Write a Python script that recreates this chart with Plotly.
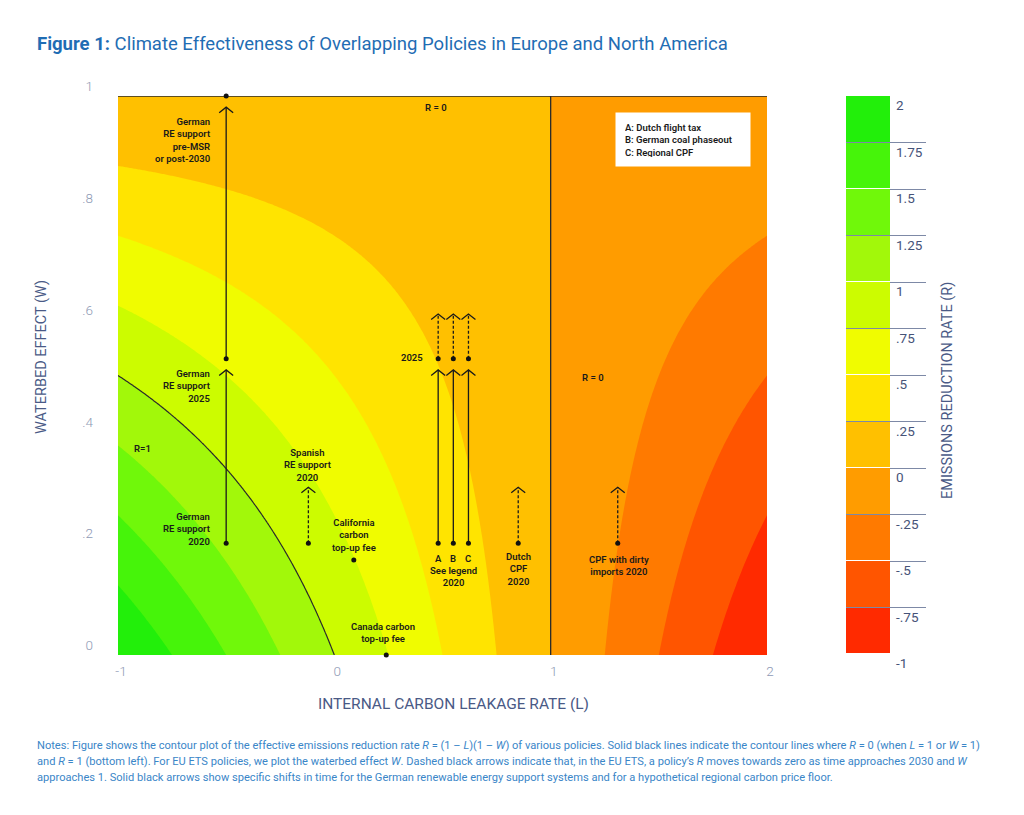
import numpy as np
import plotly.graph_objects as go

# ---------------- data ----------------
# grid of the two rates (axes of the contour)
L_values = np.linspace(-1.0, 2.0, 301)
W_values = np.linspace(0.0, 1.0, 201)
# R = (1 - L)(1 - W), as stated in the notes
R_values = np.outer(1.0 - W_values, 1.0 - L_values)

levels = [-1.0, -0.75, -0.5, -0.25, 0.0, 0.25, 0.5, 0.75, 1.0, 1.25, 1.5, 1.75, 2.0]
level_labels = ["-1", "-.75", "-.5", "-.25", "0", ".25", ".5", ".75", "1", "1.25", "1.5", "1.75", "2"]
band_colors = ["#ff2a00", "#ff5500", "#ff7a00", "#ff9c00", "#ffc000", "#ffe400",
               "#f0fc00", "#ccfc00", "#a2f80a", "#70f80a", "#46f40a", "#22ef0a"]

x_ticks = [-1, 0, 1, 2]
x_ticktext = ["-1", "0", "1", "2"]
y_ticks = [0, 0.2, 0.4, 0.6, 0.8, 1.0]
y_ticktext = ["0", ".2", ".4", ".6", ".8", "1"]

# policies: (L, W start, W tip)
solid_L = [-0.5, -0.5, 0.48, 0.55, 0.62]
solid_W0 = [0.2, 0.53, 0.2, 0.2, 0.2]
solid_W1 = [0.51, 0.98, 0.51, 0.51, 0.51]
dashed_L = [0.48, 0.55, 0.62, -0.12, 0.85, 1.31]
dashed_W0 = [0.53, 0.53, 0.53, 0.2, 0.2, 0.2]
dashed_W1 = [0.61, 0.61, 0.61, 0.30, 0.30, 0.30]
dot_L = [-0.5, -0.5, -0.5, 0.48, 0.55, 0.62, 0.48, 0.55, 0.62, -0.12, 0.09, 0.24, 0.85, 1.31]
dot_W = [0.2, 0.53, 1.0, 0.2, 0.2, 0.2, 0.53, 0.53, 0.53, 0.2, 0.17, 0.0, 0.2, 0.2]

# ---------------- figure ----------------
OFF = 8                      # page body margin
W_PX, H_PX = 1024 - 2 * OFF, 815 - 2 * OFF
def px_x(p):
    return (p - OFF) / W_PX
def px_y(p):
    return 1 - (p - OFF) / H_PX

# stepped colour scale: knot j sits at j/13 (band centres as mapped by plotly's contour fill)
all_cols = [band_colors[0]] + band_colors + [band_colors[-1]]
n = len(all_cols) - 1
cscale = []
for j, c in enumerate(all_cols):
    lo = max(0.0, (j - 0.5) / n)
    hi = min(1.0, (j + 0.5) / n)
    cscale.append([lo, c])
    cscale.append([hi, c])

step = levels[1] - levels[0]
fig = go.Figure()
fig.add_trace(go.Contour(
    x=L_values, y=W_values, z=R_values,
    autocontour=False,
    contours=dict(start=levels[0], end=levels[-1], size=step, coloring="fill", showlines=False),
    colorscale=cscale, showscale=False, line=dict(width=0), hoverinfo="skip",
    xaxis="x", yaxis="y"))

# R = 1 contour line
fig.add_trace(go.Contour(
    x=L_values, y=W_values, z=R_values,
    autocontour=False,
    contours=dict(start=1, end=1, size=1, coloring="none", showlines=True),
    line=dict(color="#2a2a2a", width=1.2), showscale=False, hoverinfo="skip"))

# R = 0 lines (L = 1 and W = 1)
fig.add_trace(go.Scatter(x=[1, 1], y=[0, 1], mode="lines",
                         line=dict(color="#2a2a2a", width=1.3), cliponaxis=False, hoverinfo="skip"))
fig.add_trace(go.Scatter(x=[-1, 2], y=[1, 1], mode="lines",
                         line=dict(color="#2a2a2a", width=1.5), cliponaxis=False, hoverinfo="skip"))

# arrows
hx = 7 / 216.5   # chevron half-width in L units
hy = 5.5 / 559   # chevron depth in W units
sx, sy = [], []
for L, a, b in zip(solid_L, solid_W0, solid_W1):
    sx += [L, L, None]
    sy += [a, b, None]
hxs, hys = [], []
for L, b in zip(solid_L + dashed_L, solid_W1 + dashed_W1):
    hxs += [L - hx, L, L + hx, None]
    hys += [b - hy, b, b - hy, None]
dx, dy = [], []
for L, a, b in zip(dashed_L, dashed_W0, dashed_W1):
    dx += [L, L, None]
    dy += [a, b, None]

fig.add_trace(go.Scatter(x=sx, y=sy, mode="lines", line=dict(color="#1a1a1a", width=1.3), hoverinfo="skip"))
fig.add_trace(go.Scatter(x=dx, y=dy, mode="lines", line=dict(color="#1a1a1a", width=1.3, dash="3px,2px"), hoverinfo="skip"))
fig.add_trace(go.Scatter(x=hxs, y=hys, mode="lines", line=dict(color="#1a1a1a", width=1.3), hoverinfo="skip"))
fig.add_trace(go.Scatter(x=dot_L, y=dot_W, mode="markers", marker=dict(color="#111111", size=5),
                         cliponaxis=False, hoverinfo="skip"))

# colour bar built from the same bands
band_centres = [(levels[i] + levels[i + 1]) / 2 for i in range(len(levels) - 1)]
fig.add_trace(go.Heatmap(
    x=[0, 1], y=levels, z=[[c] for c in band_centres],
    zmin=levels[0] - step / 2, zmax=levels[-1] + step / 2,
    colorscale=cscale, showscale=False, ygap=1, hoverinfo="skip",
    xaxis="x2", yaxis="y2"))

axis_font = dict(family="Roboto", size=13.5, color="#8e9ab5", weight=300)
fig.update_layout(
    width=W_PX, height=H_PX,
    margin=dict(l=0, r=0, t=0, b=0, pad=0, autoexpand=False),
    paper_bgcolor="white", plot_bgcolor="white",
    showlegend=False,
    font=dict(family="Roboto"),
    xaxis=dict(domain=[px_x(118), px_x(767)], range=[-1, 2], showgrid=False, zeroline=False,
               tickvals=x_ticks, ticktext=x_ticktext, tickfont=axis_font, ticks="",
               ticklabelstandoff=6, ticklabelshift=3, showline=False, anchor="y", automargin=False),
    yaxis=dict(domain=[px_y(655), px_y(96)], range=[0, 1], showgrid=False, zeroline=False,
               tickvals=y_ticks, ticktext=y_ticktext, tickfont=axis_font, ticks="",
               ticklabelposition="outside top", ticklabelstandoff=24, showline=False, anchor="x",
               automargin=False),
    xaxis2=dict(domain=[px_x(846), px_x(926)], range=[0, 80 / 44], visible=False, anchor="y2",
                automargin=False),
    yaxis2=dict(domain=[px_y(654), px_y(96)], range=[levels[0], levels[-1]], anchor="free",
                position=px_x(890), side="right", showgrid=True, gridcolor="#7d89a6", gridwidth=1,
                zeroline=False, tickvals=levels, ticktext=level_labels, ticks="",
                ticklabelposition="outside bottom", ticklabelstandoff=5, automargin=False,
                tickfont=dict(family="Roboto", size=13.5, color="#465378", weight=400), showline=False),
)

lab_font = dict(family="Roboto", size=9.5, color="#1a1a1a", weight=600)
def lab(text, x, y, xa="center", ya="top", align="center"):
    fig.add_annotation(text=text, x=x, y=y, xref="x", yref="y", showarrow=False,
                       xanchor=xa, yanchor=ya, align=align, font=lab_font)

lab("German<br>RE support<br>pre-MSR<br>or post-2030", -0.565, 0.968, xa="right", align="right")
lab("German<br>RE support<br>2025", -0.565, 0.517, xa="right", align="right")
lab("German<br>RE support<br>2020", -0.565, 0.261, xa="right", align="right")
lab("R=1", -0.889, 0.369, ya="middle")
lab("Spanish<br>RE support<br>2020", -0.122, 0.375)
lab("California<br>carbon<br>top-up fee", 0.092, 0.250)
lab("Canada carbon<br>top-up fee", 0.224, 0.064)
lab("2025", 0.418, 0.533, xa="right", ya="middle")
lab("A", 0.48, 0.1735, ya="middle")
lab("B", 0.55, 0.1735, ya="middle")
lab("C", 0.62, 0.1735, ya="middle")
lab("See legend<br>2020", 0.55, 0.165)
lab("Dutch<br>CPF<br>2020", 0.85, 0.190)
lab("CPF with dirty<br>imports 2020", 1.314, 0.185)
lab("R = 0", 0.469, 0.980, ya="middle")
lab("R = 0", 1.194, 0.497, ya="middle")

fig.add_annotation(text="A: Dutch flight tax<br>B: German coal phaseout<br>C: Regional CPF",
                   x=1.296, y=0.971, xref="x", yref="y", xanchor="left", yanchor="top",
                   align="left", valign="top", showarrow=False, bgcolor="white",
                   width=116, height=35, borderpad=9, font=lab_font)

# titles
title_col = "#4a5a86"
fig.add_annotation(text="INTERNAL CARBON LEAKAGE RATE (L)", x=px_x(453), y=px_y(704),
                   xref="paper", yref="paper", showarrow=False, xanchor="center", yanchor="middle",
                   font=dict(family="Roboto", size=15.5, color=title_col, weight=400))
fig.add_annotation(text="WATERBED EFFECT (W)", x=px_x(42), y=px_y(357), textangle=-90,
                   xref="paper", yref="paper", showarrow=False, xanchor="center", yanchor="middle",
                   font=dict(family="Roboto", size=14.5, color=title_col, weight=400))
fig.add_annotation(text="EMISSIONS REDUCTION RATE (R)", x=px_x(947), y=px_y(391), textangle=-90,
                   xref="paper", yref="paper", showarrow=False, xanchor="center", yanchor="middle",
                   font=dict(family="Roboto", size=14.5, color=title_col, weight=400))

fig.add_annotation(text="<b>Figure 1:</b> Climate Effectiveness of Overlapping Policies in Europe and North America",
                   x=px_x(35), y=px_y(44), xref="paper", yref="paper", showarrow=False,
                   xanchor="left", yanchor="middle",
                   font=dict(family="Roboto", size=18.5, color="#1f6db4"))

note_lines = [
    "Notes: Figure shows the contour plot of the effective emissions reduction rate <i>R</i> = (1 – <i>L</i>)(1 – <i>W</i>) of various policies. Solid black lines indicate the contour lines where <i>R</i> = 0 (when <i>L</i> = 1 or <i>W</i> = 1)",
    "and <i>R</i> = 1 (bottom left). For EU ETS policies, we plot the waterbed effect <i>W</i>. Dashed black arrows indicate that, in the EU ETS, a policy’s <i>R</i> moves towards zero as time approaches 2030 and <i>W</i>",
    "approaches 1. Solid black arrows show specific shifts in time for the German renewable energy support systems and for a hypothetical regional carbon price floor.",
]
for i, t in enumerate(note_lines):
    fig.add_annotation(text=t, x=px_x(35), y=px_y(745 + 16.3 * i), xref="paper", yref="paper",
                       showarrow=False, xanchor="left", yanchor="middle", align="left",
                       font=dict(family="Roboto", size=11.1, color="#3a86c8"))

fig.write_html("out.html")
